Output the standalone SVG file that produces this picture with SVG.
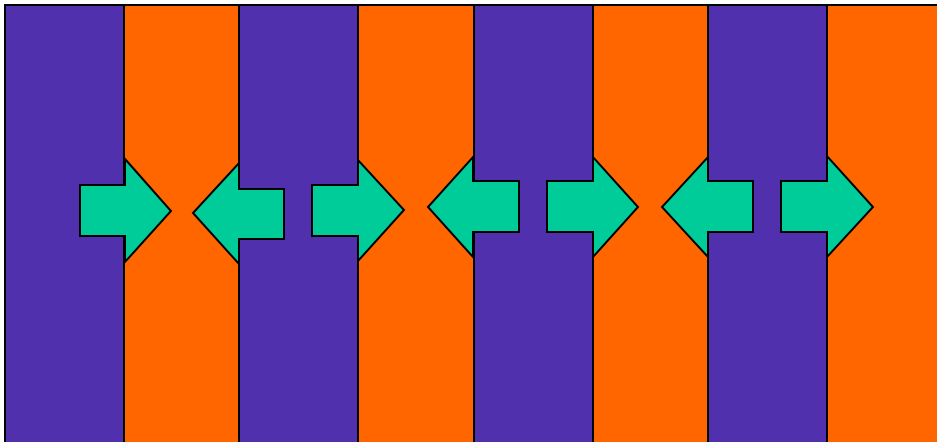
<svg xmlns="http://www.w3.org/2000/svg" width="937" height="442" viewBox="0 0 937 442">
<style>
.p{fill:#5130ad;stroke:#000;stroke-width:2}
.o{fill:#ff6600;stroke:#000;stroke-width:2}
.a{fill:#00cc99;stroke:#000;stroke-width:2;stroke-linejoin:miter}
</style>
<rect x="0" y="0" width="937" height="442" fill="#ffffff"/>
<g id="columns">
<rect id="c1" class="p" x="5" y="5" width="119" height="445"/>
<rect id="c2" class="o" x="124" y="5" width="115" height="445"/>
<rect id="c3" class="p" x="239" y="5" width="119" height="445"/>
<rect id="c4" class="o" x="358" y="5" width="116" height="445"/>
<rect id="c5" class="p" x="474" y="5" width="119" height="445"/>
<rect id="c6" class="o" x="593" y="5" width="115" height="445"/>
<rect id="c7" class="p" x="708" y="5" width="119" height="445"/>
<rect id="c8" class="o" x="827" y="5" width="120" height="445"/>
</g>
<g id="arrows">
<polygon id="a1" class="a" points="80,185 125,185 125,159 171,211 125,262 125,236 80,236"/>
<polygon id="a2" class="a" points="284,189 239,189 239,163 193,213 239,264 239,239 284,239"/>
<polygon id="a3" class="a" points="312,185 358,185 358,160 404,210 358,261 358,236 312,236"/>
<polygon id="a4" class="a" points="519,181 473,181 473,157 428,207 473,257 473,232 519,232"/>
<polygon id="a5" class="a" points="547,181 593,181 593,157 638,207 593,257 593,232 547,232"/>
<polygon id="a6" class="a" points="753,181 708,181 708,157 662,207 708,257 708,232 753,232"/>
<polygon id="a7" class="a" points="781,181 827,181 827,156 873,207 827,257 827,232 781,232"/>
</g>
</svg>
